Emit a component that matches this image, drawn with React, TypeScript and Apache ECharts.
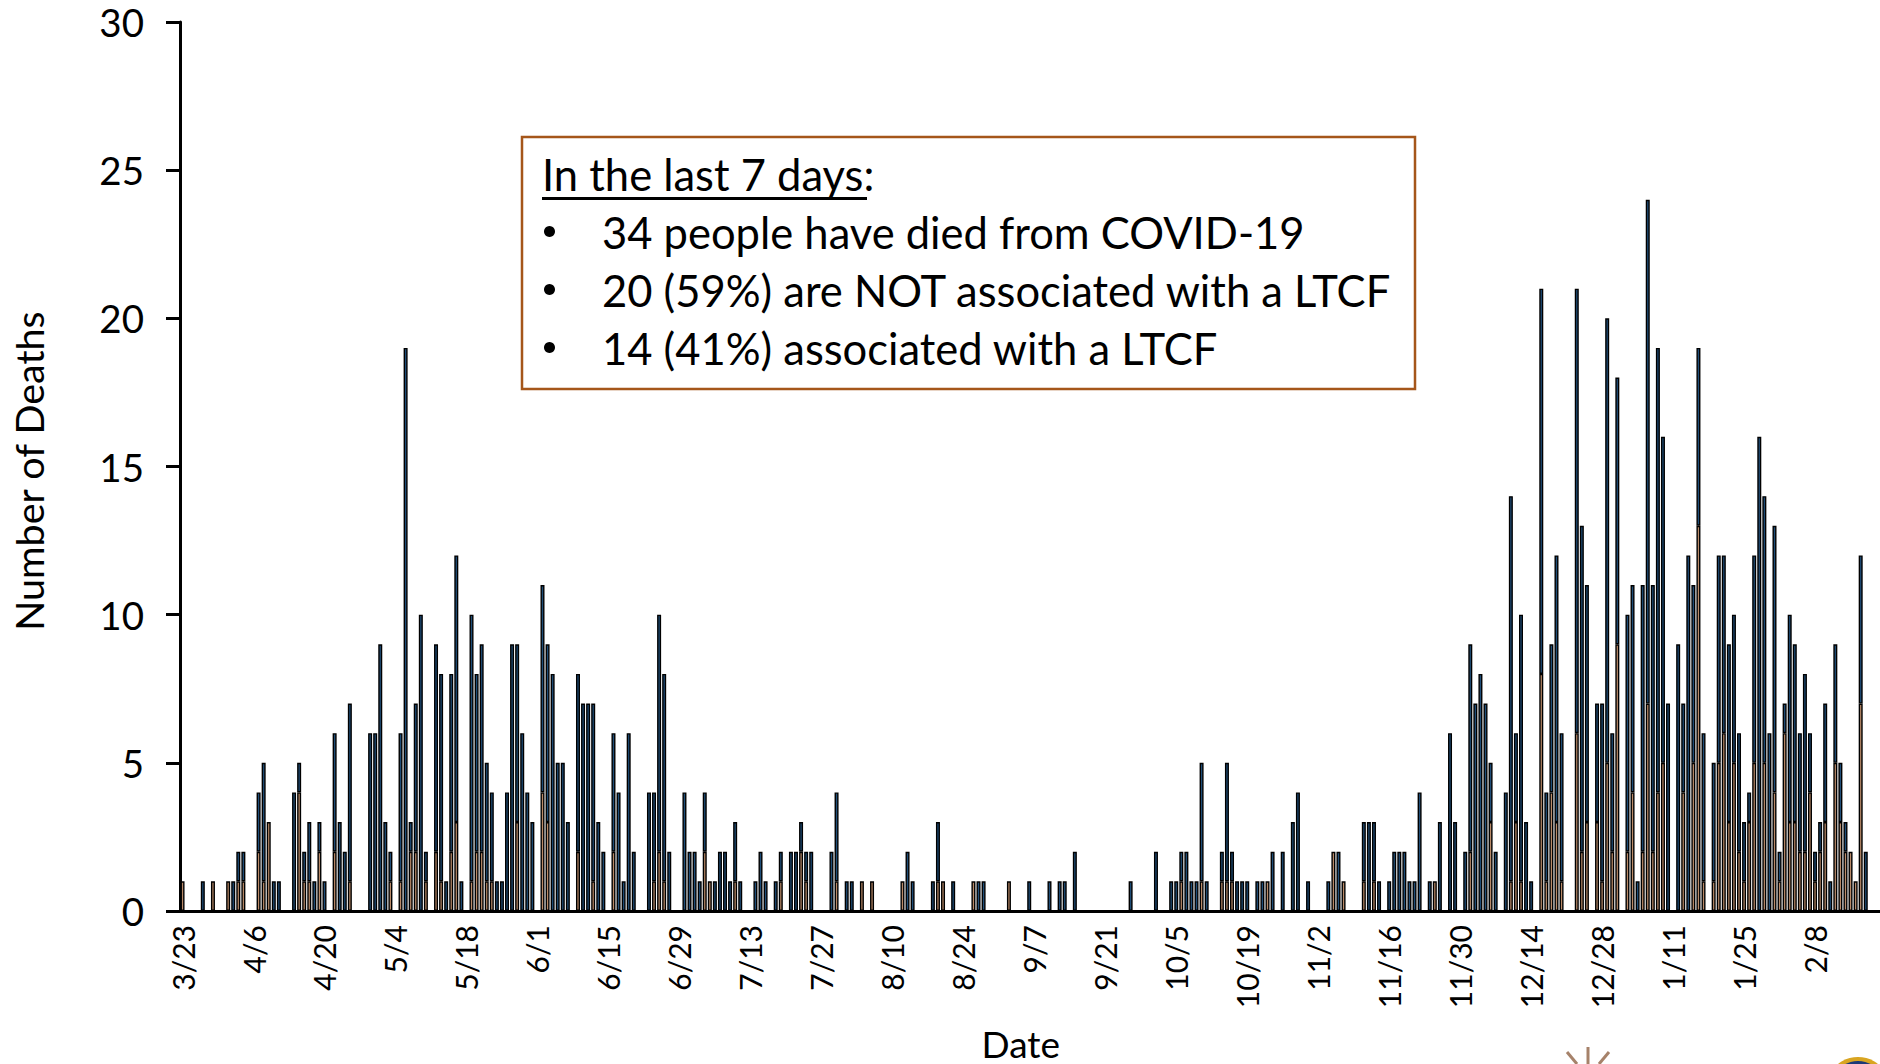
import React, { useEffect, useRef } from "react";
import * as echarts from "echarts";

const START_MONTH_DAY: [number, number] = [3, 23];
const DAY_COUNT = 336;
const yTicks = [0, 5, 10, 15, 20, 25, 30];

// Every row below is 14 days, one row per labelled tick
const totalDeaths = [
  1, 0, 0, 0, 1, 0, 1, 0, 0, 1, 1, 2, 2, 0,
  0, 4, 5, 3, 1, 1, 0, 0, 4, 5, 2, 3, 1, 3,
  1, 0, 6, 3, 2, 7, 0, 0, 0, 6, 6, 9, 3, 2,
  0, 6, 19, 3, 7, 10, 2, 0, 9, 8, 1, 8, 12, 1,
  0, 10, 8, 9, 5, 4, 1, 1, 4, 9, 9, 6, 4, 3,
  0, 11, 9, 8, 5, 5, 3, 0, 8, 7, 7, 7, 3, 2,
  0, 6, 4, 1, 6, 2, 0, 0, 4, 4, 10, 8, 2, 0,
  0, 4, 2, 2, 1, 4, 1, 1, 2, 2, 1, 3, 1, 0,
  0, 1, 2, 1, 0, 1, 2, 0, 2, 2, 3, 2, 2, 0,
  0, 0, 2, 4, 0, 1, 1, 0, 1, 0, 1, 0, 0, 0,
  0, 0, 1, 2, 1, 0, 0, 0, 1, 3, 1, 0, 1, 0,
  0, 0, 1, 1, 1, 0, 0, 0, 0, 1, 0, 0, 0, 1,
  0, 0, 0, 1, 0, 1, 1, 0, 2, 0, 0, 0, 0, 0,
  0, 0, 0, 0, 0, 1, 0, 0, 0, 0, 2, 0, 0, 1,
  1, 2, 2, 1, 1, 5, 1, 0, 0, 2, 5, 2, 1, 1,
  1, 0, 1, 1, 1, 2, 0, 2, 0, 3, 4, 0, 1, 0,
  0, 0, 1, 2, 2, 1, 0, 0, 0, 3, 3, 3, 1, 0,
  1, 2, 2, 2, 1, 1, 4, 0, 1, 1, 3, 0, 6, 3,
  0, 2, 9, 7, 8, 7, 5, 2, 0, 4, 14, 6, 10, 3,
  1, 0, 21, 4, 9, 12, 6, 0, 0, 21, 13, 11, 0, 7,
  7, 20, 6, 18, 0, 10, 11, 1, 11, 24, 11, 19, 16, 7,
  0, 9, 7, 12, 11, 19, 6, 0, 5, 12, 12, 9, 10, 6,
  3, 4, 12, 16, 14, 6, 13, 2, 7, 10, 9, 6, 8, 6,
  2, 3, 7, 1, 9, 5, 3, 2, 1, 12, 2, 0, 0, 0,
];

const ltcfDeaths = [
  1, 0, 0, 0, 0, 0, 1, 0, 0, 1, 0, 1, 1, 0,
  0, 2, 1, 3, 0, 0, 0, 0, 0, 4, 1, 1, 0, 2,
  0, 0, 2, 0, 0, 1, 0, 0, 0, 0, 0, 0, 0, 1,
  0, 1, 0, 2, 2, 0, 1, 0, 2, 1, 0, 2, 3, 0,
  0, 1, 2, 2, 1, 1, 0, 0, 0, 0, 3, 0, 0, 0,
  0, 4, 3, 0, 0, 0, 0, 0, 2, 0, 0, 1, 0, 0,
  0, 2, 0, 0, 0, 0, 0, 0, 0, 1, 2, 1, 0, 0,
  0, 0, 0, 0, 0, 2, 1, 0, 0, 0, 0, 1, 0, 0,
  0, 0, 0, 0, 0, 0, 1, 0, 0, 0, 2, 1, 0, 0,
  0, 0, 0, 1, 0, 0, 0, 0, 1, 0, 1, 0, 0, 0,
  0, 0, 1, 0, 0, 0, 0, 0, 0, 1, 1, 0, 0, 0,
  0, 0, 1, 0, 0, 0, 0, 0, 0, 1, 0, 0, 0, 0,
  0, 0, 0, 0, 0, 0, 0, 0, 0, 0, 0, 0, 0, 0,
  0, 0, 0, 0, 0, 0, 0, 0, 0, 0, 0, 0, 0, 0,
  0, 1, 0, 0, 0, 1, 0, 0, 0, 1, 1, 1, 0, 0,
  0, 0, 0, 0, 1, 0, 0, 0, 0, 0, 0, 0, 0, 0,
  0, 0, 0, 2, 0, 1, 0, 0, 0, 1, 0, 1, 0, 0,
  0, 0, 0, 0, 0, 0, 0, 0, 0, 1, 0, 0, 0, 0,
  0, 0, 2, 0, 0, 0, 3, 0, 0, 0, 1, 3, 1, 0,
  0, 0, 8, 1, 4, 3, 1, 0, 0, 6, 2, 3, 0, 3,
  1, 5, 2, 9, 0, 2, 4, 0, 2, 7, 2, 4, 5, 0,
  0, 0, 4, 0, 5, 13, 1, 0, 1, 5, 6, 3, 5, 2,
  1, 3, 5, 0, 5, 0, 4, 1, 6, 3, 3, 2, 2, 4,
  1, 2, 3, 0, 5, 3, 2, 2, 1, 7, 0, 0, 0, 0,
];

const calloutTitle = "In the last 7 days";
const calloutLines = [
  "34 people have died from COVID-19",
  "20 (59%) are NOT associated with a LTCF",
  "14 (41%) associated with a LTCF",
];

const FONT = "Lato";

function dayLabels(): string[] {
  const out: string[] = [];
  const d = new Date(2020, START_MONTH_DAY[0] - 1, START_MONTH_DAY[1]);
  for (let i = 0; i < DAY_COUNT; i++) {
    out.push(`${d.getMonth() + 1}/${d.getDate()}`);
    d.setDate(d.getDate() + 1);
  }
  return out;
}

export default function App() {
  const ref = useRef<HTMLDivElement>(null);
  useEffect(() => {
    document.body.style.margin = "0";
    document.body.style.background = "#fff";
    const chart = echarts.init(ref.current!, undefined, { renderer: "svg" });
    const ltcf = ltcfDeaths.map((v) => (v > 0 ? v : null));
    const other = totalDeaths.map((t, i) => (t - ltcfDeaths[i] > 0 ? t - ltcfDeaths[i] : null));
    const baseline = 196;
    const step = 58;
    const lineEls = calloutLines.flatMap((text, i) => [
      {
        type: "circle",
        shape: { cx: 549.5, cy: 190.5 + step * (i + 1) - 17, r: 5.5 },
        style: { fill: "#000" },
        z: 11,
      },
      {
        type: "text",
        x: 602,
        y: baseline + step * (i + 1),
        style: { text, font: `43.5px ${FONT}`, fill: "#000", textVerticalAlign: "bottom" },
        z: 11,
      },
    ]);
    chart.setOption({
      animation: false,
      backgroundColor: "#ffffff",
      grid: { left: 180, top: 22, width: 1703.5, height: 889, containLabel: false, outerBoundsMode: "none" },
      xAxis: {
        type: "category",
        data: dayLabels(),
        boundaryGap: true,
        name: "Date",
        nameLocation: "middle",
        nameGap: 115,
        nameTextStyle: { fontFamily: FONT, fontSize: 37, lineHeight: 34, color: "#000", padding: [0, 22, 0, 0] },
        axisLine: { lineStyle: { color: "#000", width: 3 } },
        axisTick: { interval: 13, length: 10, lineStyle: { color: "#000", width: 3 } },
        axisLabel: { interval: 13, rotate: 90, fontFamily: FONT, fontSize: 30, color: "#000", margin: 14 },
      },
      yAxis: {
        type: "value",
        min: yTicks[0],
        max: yTicks[yTicks.length - 1],
        interval: 5,
        name: "Number of Deaths",
        nameLocation: "middle",
        nameGap: 132,
        nameTextStyle: { fontFamily: FONT, fontSize: 39.5, color: "#000", padding: [0, 9, 0, 0] },
        splitLine: { show: false },
        axisLine: { show: true, lineStyle: { color: "#000", width: 3 } },
        axisTick: { show: true, length: 14, lineStyle: { color: "#000", width: 3 } },
        axisLabel: { fontFamily: FONT, fontSize: 38.5, color: "#000", margin: 36, padding: [0, 0, 5, 0] },
      },
      series: [
        {
          name: "Associated with a LTCF",
          type: "bar",
          stack: "deaths",
          data: ltcf,
          barWidth: 4,
          itemStyle: { color: "#B98A68", borderColor: "#000", borderWidth: 1.4 },
        },
        {
          name: "Not associated with a LTCF",
          type: "bar",
          stack: "deaths",
          data: other,
          barWidth: 4,
          itemStyle: { color: "#1F4E79", borderColor: "#000", borderWidth: 1.4 },
        },
      ],
      graphic: [
        {
          type: "rect",
          shape: { x: 522, y: 137, width: 893, height: 252 },
          style: { fill: "#fff", stroke: "#A5561A", lineWidth: 2.5 },
          z: 10,
        },
        {
          type: "text",
          x: 542,
          y: baseline,
          style: { text: calloutTitle + ":", font: `43.5px ${FONT}`, fill: "#000", textVerticalAlign: "bottom" },
          z: 11,
        },
        {
          type: "line",
          shape: { x1: 542, y1: 198.5, x2: 867, y2: 198.5 },
          style: { stroke: "#000", lineWidth: 3 },
          z: 11,
        },
        ...lineEls,
        { type: "line", shape: { x1: 1588, y1: 1047, x2: 1588, y2: 1064 }, style: { stroke: "#A6826A", lineWidth: 3 } },
        { type: "line", shape: { x1: 1567, y1: 1052, x2: 1577, y2: 1064 }, style: { stroke: "#A6826A", lineWidth: 3 } },
        { type: "line", shape: { x1: 1609, y1: 1052, x2: 1599, y2: 1064 }, style: { stroke: "#A6826A", lineWidth: 3 } },
        { type: "circle", shape: { cx: 1858, cy: 1089, r: 32 }, style: { fill: "#D9A521" } },
        { type: "circle", shape: { cx: 1858, cy: 1089, r: 28 }, style: { fill: "#1C3A78" } },
      ],
    });
    return () => chart.dispose();
  }, []);
  return <div ref={ref} style={{ width: 1880, height: 1064 }} />;
}
